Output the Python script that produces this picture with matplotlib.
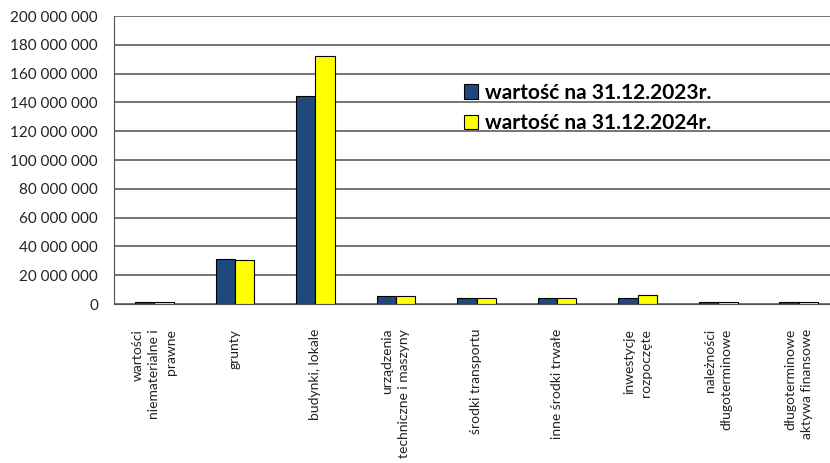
import numpy as np
import matplotlib.pyplot as plt
from matplotlib.ticker import FuncFormatter

plt.rcParams['font.family'] = ['Lato', 'DejaVu Sans']

# Data
categories = ['wartości\nniematerialne i\nprawne', 'grunty', 'budynki, lokale',
              'urządzenia\ntechniczne i maszyny', 'środki transportu',
              'inne środki trwałe', 'inwestycje\nrozpoczęte',
              'należności\ndługoterminowe', 'długoterminowe\naktywa finansowe']
values_2023 = [1500000, 31000000, 144500000, 5600000, 4400000, 4400000, 4400000, 1500000, 1500000]
values_2024 = [1500000, 30300000, 172000000, 5800000, 4400000, 4400000, 6200000, 1500000, 1500000]
series_labels = ['wartość na 31.12.2023r.', 'wartość na 31.12.2024r.']

fig = plt.figure(figsize=(8.3, 4.63), dpi=100)
ax = fig.add_axes([114 / 830, 1 - 304 / 463, 725 / 830, 288 / 463])

x = np.arange(len(categories))
w = 0.24
ax.bar(x - w / 2, values_2023, w, color='#1F497D', edgecolor='black', linewidth=0.8,
       label=series_labels[0], zorder=3)
ax.bar(x + w / 2, values_2024, w, color='#FFFF00', edgecolor='black', linewidth=0.8,
       label=series_labels[1], zorder=3)

ax.set_xlim(-0.5, len(categories) - 0.5)
ax.set_ylim(0, 200000000)
ax.set_yticks(np.arange(0, 200000001, 20000000))
ax.yaxis.set_major_formatter(FuncFormatter(lambda v, p: f"{int(v):,}".replace(',', ' ')))
ax.yaxis.grid(True, color='#505050', linewidth=1.1, zorder=0)
ax.tick_params(axis='y', length=0, labelsize=11, pad=11.5, labelcolor='#222222')
ax.tick_params(axis='x', length=0, pad=18)
ax.set_xticks(x)
ax.set_xticklabels(categories, rotation=90, fontsize=10, multialignment='right',
                   color='#222222', linespacing=1.5)

for side in ['top', 'right']:
    ax.spines[side].set_visible(False)
ax.spines['left'].set_color('#505050')
ax.spines['bottom'].set_color('#505050')

ax.legend(loc='upper left', bbox_to_anchor=(445 / 830, 1 - 64 / 463),
          bbox_transform=fig.transFigure, frameon=False,
          prop={'weight': 'bold', 'size': 15}, handlelength=0.7, handleheight=0.7,
          handletextpad=0.3, labelspacing=0.5)

fig.savefig('out.png', dpi=100)
